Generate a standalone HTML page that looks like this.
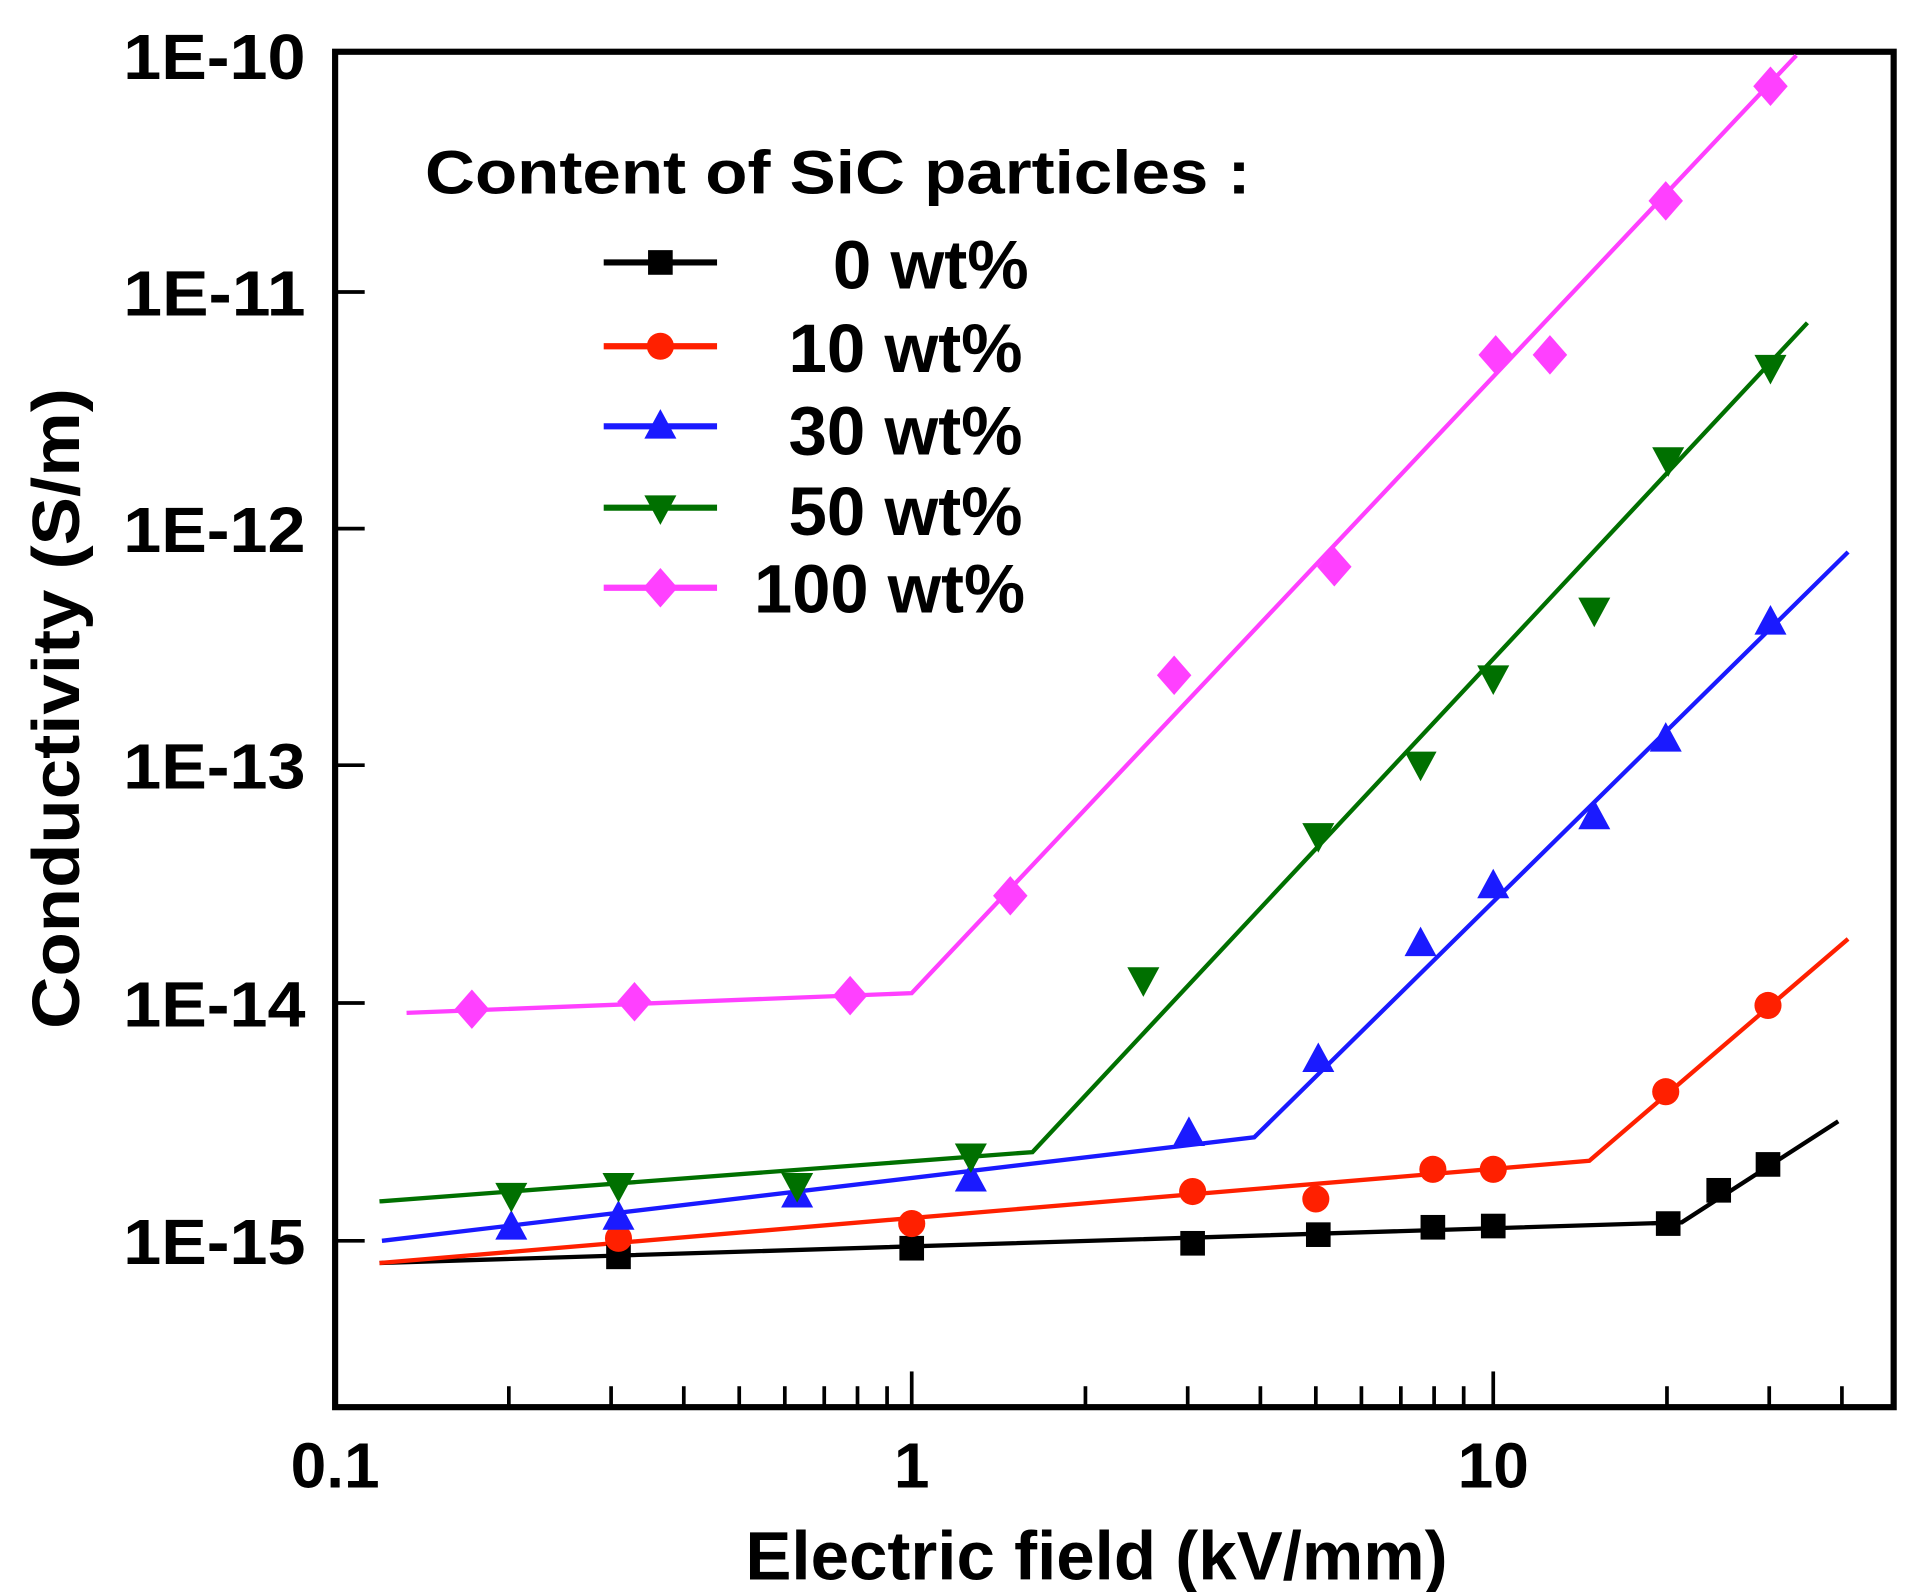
<!DOCTYPE html>
<html><head><meta charset="utf-8"><style>html,body{margin:0;padding:0;background:#fff}svg{display:block}</style></head>
<body>
<svg width="1922" height="1592" viewBox="0 0 1560 1292" preserveAspectRatio="none" xmlns="http://www.w3.org/2000/svg" font-family="Liberation Sans, Arial, sans-serif" font-weight="bold">
<defs>
<g id="sq"><rect x="-10" y="-10" width="20" height="20"/></g>
<g id="ci"><circle r="11"/></g>
<g id="tu"><polygon points="0,-14 13,10 -13,10"/></g>
<g id="td"><polygon points="0,14 13,-10 -13,-10"/></g>
<g id="di"><polygon points="0,-16 14,0 0,16 -14,0"/></g>
</defs>
<rect x="272" y="42" width="1265" height="1100" fill="none" stroke="#000" stroke-width="5"/>
<g stroke="#000" stroke-width="3">
<line x1="272" y1="237" x2="296" y2="237"/><line x1="272" y1="429" x2="296" y2="429"/>
<line x1="272" y1="621" x2="296" y2="621"/><line x1="272" y1="814" x2="296" y2="814"/>
<line x1="272" y1="1007" x2="296" y2="1007"/>
<line x1="740" y1="1142" x2="740" y2="1113"/><line x1="1212" y1="1142" x2="1212" y2="1113"/>
<line x1="413" y1="1142" x2="413" y2="1125"/><line x1="496" y1="1142" x2="496" y2="1125"/><line x1="555" y1="1142" x2="555" y2="1125"/><line x1="600" y1="1142" x2="600" y2="1125"/><line x1="637" y1="1142" x2="637" y2="1125"/><line x1="669" y1="1142" x2="669" y2="1125"/><line x1="696" y1="1142" x2="696" y2="1125"/><line x1="720" y1="1142" x2="720" y2="1125"/>
<line x1="881" y1="1142" x2="881" y2="1125"/><line x1="964" y1="1142" x2="964" y2="1125"/><line x1="1023" y1="1142" x2="1023" y2="1125"/><line x1="1068" y1="1142" x2="1068" y2="1125"/><line x1="1105" y1="1142" x2="1105" y2="1125"/><line x1="1137" y1="1142" x2="1137" y2="1125"/><line x1="1164" y1="1142" x2="1164" y2="1125"/><line x1="1188" y1="1142" x2="1188" y2="1125"/>
<line x1="1353" y1="1142" x2="1353" y2="1125"/><line x1="1436" y1="1142" x2="1436" y2="1125"/><line x1="1495" y1="1142" x2="1495" y2="1125"/>
</g>
<g font-size="52" fill="#000">
<text x="100" y="64" textLength="148" lengthAdjust="spacingAndGlyphs">1E-10</text>
<text x="100" y="256" textLength="148" lengthAdjust="spacingAndGlyphs">1E-11</text>
<text x="100" y="448" textLength="148" lengthAdjust="spacingAndGlyphs">1E-12</text>
<text x="100" y="640" textLength="148" lengthAdjust="spacingAndGlyphs">1E-13</text>
<text x="100" y="833" textLength="148" lengthAdjust="spacingAndGlyphs">1E-14</text>
<text x="100" y="1026" textLength="148" lengthAdjust="spacingAndGlyphs">1E-15</text>
</g>
<g font-size="52" text-anchor="middle" fill="#000">
<text x="272" y="1207">0.1</text><text x="740" y="1207">1</text><text x="1212" y="1207">10</text>
</g>
<text x="605" y="1282" font-size="56" textLength="570" lengthAdjust="spacingAndGlyphs">Electric field (kV/mm)</text>
<text transform="translate(64,835) rotate(-90)" font-size="54" textLength="520" lengthAdjust="spacingAndGlyphs">Conductivity  (S/m)</text>
<g fill="none" stroke-width="3.5">
<polyline stroke="#000" points="308,1025 1365,992 1492,910"/>
<polyline stroke="#ff2000" points="308,1025 1290,942 1500,762"/>
<polyline stroke="#1a1aff" points="310,1007 1018,923 1500,448"/>
<polyline stroke="#007000" points="308,975 838,935 1467,262"/>
<polyline stroke="#ff40ff" points="330,822 740,806 1458,45"/>
</g>
<g fill="#000">
<use href="#sq" x="502" y="1020"/><use href="#sq" x="740" y="1013"/><use href="#sq" x="968" y="1009"/><use href="#sq" x="1070" y="1002"/><use href="#sq" x="1163" y="996"/><use href="#sq" x="1212" y="995"/><use href="#sq" x="1354" y="993"/><use href="#sq" x="1395" y="966"/><use href="#sq" x="1435" y="945"/>
</g>
<g fill="#ff2000">
<use href="#ci" x="502" y="1005"/><use href="#ci" x="740" y="993"/><use href="#ci" x="968" y="967"/><use href="#ci" x="1068" y="973"/><use href="#ci" x="1163" y="949"/><use href="#ci" x="1212" y="949"/><use href="#ci" x="1352" y="886"/><use href="#ci" x="1435" y="816"/>
</g>
<g fill="#1a1aff">
<use href="#tu" x="415" y="996"/><use href="#tu" x="502" y="988"/><use href="#tu" x="647" y="970"/><use href="#tu" x="788" y="957"/><use href="#tu" x="965" y="920"/><use href="#tu" x="1070" y="860"/><use href="#tu" x="1153" y="766"/><use href="#tu" x="1212" y="719"/><use href="#tu" x="1294" y="663"/><use href="#tu" x="1352" y="600"/><use href="#tu" x="1437" y="505"/>
</g>
<g fill="#007000">
<use href="#td" x="415" y="970"/><use href="#td" x="502" y="962"/><use href="#td" x="647" y="962"/><use href="#td" x="788" y="938"/><use href="#td" x="928" y="795"/><use href="#td" x="1070" y="678"/><use href="#td" x="1153" y="620"/><use href="#td" x="1212" y="550"/><use href="#td" x="1294" y="495"/><use href="#td" x="1354" y="373"/><use href="#td" x="1437" y="298"/>
</g>
<g fill="#ff40ff">
<use href="#di" x="383" y="819"/><use href="#di" x="515" y="813"/><use href="#di" x="690" y="808"/><use href="#di" x="820" y="727"/><use href="#di" x="953" y="548"/><use href="#di" x="1083" y="460"/><use href="#di" x="1214" y="288"/><use href="#di" x="1258" y="288"/><use href="#di" x="1352" y="163"/><use href="#di" x="1437" y="70"/>
</g>
<text x="345" y="157" font-size="50" textLength="670" lengthAdjust="spacingAndGlyphs">Content of SiC particles :</text>
<g stroke-width="5">
<line x1="490" y1="213" x2="582" y2="213" stroke="#000"/>
<line x1="490" y1="281" x2="582" y2="281" stroke="#ff2000"/>
<line x1="490" y1="346" x2="582" y2="346" stroke="#1a1aff"/>
<line x1="490" y1="412" x2="582" y2="412" stroke="#007000"/>
<line x1="490" y1="477" x2="582" y2="477" stroke="#ff40ff"/>
</g>
<use href="#sq" x="536" y="213" fill="#000"/>
<use href="#ci" x="536" y="281" fill="#ff2000"/>
<use href="#tu" x="536" y="346" fill="#1a1aff"/>
<use href="#td" x="536" y="412" fill="#007000"/>
<use href="#di" x="536" y="477" fill="#ff40ff"/>
<g font-size="56" fill="#000">
<text x="676" y="234" textLength="159" lengthAdjust="spacingAndGlyphs">0 wt%</text>
<text x="640" y="302" textLength="190" lengthAdjust="spacingAndGlyphs">10 wt%</text>
<text x="640" y="369" textLength="190" lengthAdjust="spacingAndGlyphs">30 wt%</text>
<text x="640" y="434" textLength="190" lengthAdjust="spacingAndGlyphs">50 wt%</text>
<text x="612" y="497" textLength="220" lengthAdjust="spacingAndGlyphs">100 wt%</text>
</g>
</svg>
</body></html>
